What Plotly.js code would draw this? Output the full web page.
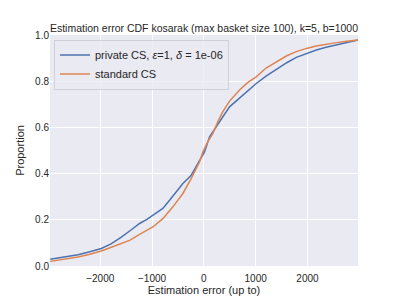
<!DOCTYPE html>
<html><head><meta charset="utf-8">
<script src="https://cdn.plot.ly/plotly-3.0.1.min.js"></script>
<style>html,body{margin:0;padding:0;background:#fff}#c{width:399px;height:299px}</style>
</head><body><div id="c"></div>
<script>
const privX = [-2965,-2700,-2430,-2200,-1981,-1800,-1600,-1400,-1241,-1100,-985,-880,-792,-662,-533,-405,-243,-83,13,110,240,367,500,689,850,1011,1200,1397,1600,1784,1980,2170,2360,2556,2760,2973];
const privY = [0.029,0.038,0.049,0.062,0.076,0.095,0.124,0.157,0.184,0.202,0.220,0.235,0.249,0.285,0.321,0.357,0.393,0.458,0.494,0.559,0.605,0.646,0.690,0.726,0.760,0.790,0.822,0.851,0.880,0.903,0.920,0.935,0.947,0.957,0.967,0.978];
const stdX = [-2965,-2700,-2430,-2200,-1981,-1800,-1595,-1434,-1241,-985,-792,-598,-405,-243,-83,-19,80,174,270,367,500,689,850,1011,1200,1397,1600,1784,1980,2170,2360,2556,2760,2973];
const stdY = [0.020,0.029,0.039,0.051,0.065,0.080,0.097,0.111,0.137,0.169,0.205,0.256,0.314,0.379,0.451,0.494,0.540,0.574,0.625,0.668,0.715,0.762,0.795,0.819,0.857,0.884,0.910,0.928,0.942,0.952,0.960,0.967,0.973,0.978];
const seriesNames = ['private CS, <i>ε</i>=1, <i>δ</i> = 1e-06', 'standard CS'];
const xTicks = [-2000,-1000,0,1000,2000];
const xTickText = ['−2000','−1000','0','1000','2000'];
const yTicks = [0,0.2,0.4,0.6,0.8,1.0];
const yTickText = ['0.0','0.2','0.4','0.6','0.8','1.0'];

const font = 'Liberation Sans, Arial, sans-serif';
Plotly.newPlot('c', [
  {x: privX, y: privY, name: seriesNames[0], mode: 'lines', line: {color: '#4C72B0', width: 1.5}},
  {x: stdX, y: stdY, name: seriesNames[1], mode: 'lines', line: {color: '#DD8452', width: 1.5}}
], {
  width: 399, height: 299,
  margin: {l: 50, r: 41, t: 35, b: 33},
  paper_bgcolor: '#fff', plot_bgcolor: '#EAEAF2',
  font: {family: font, size: 10, color: '#262626'},
  title: {text: 'Estimation error CDF kosarak (max basket size 100), k=5, b=1000', font: {size: 10.5, color: '#262626'}, x: 0.5, xanchor: 'center', y: 0.906, yanchor: 'middle', xref: 'paper'},
  xaxis: {range: [-2970, 2975], tickvals: xTicks, ticktext: xTickText, gridcolor: '#fff', gridwidth: 1, zeroline: false, showline: false, ticks: 'outside', ticklen: 3, tickcolor: 'rgba(0,0,0,0)', tickfont: {size: 10, color: '#262626'},
    title: {text: 'Estimation error (up to)', font: {size: 11, color: '#262626'}, standoff: 3}},
  yaxis: {range: [0, 1], tickvals: yTicks, ticktext: yTickText, gridcolor: '#fff', gridwidth: 1, zeroline: false, showline: false, ticks: '', tickfont: {size: 10, color: '#262626'},
    title: {text: 'Proportion', font: {size: 11, color: '#262626'}, standoff: 8}},
  legend: {x: 0.013, y: 0.98, xanchor: 'left', yanchor: 'top', bgcolor: 'rgba(234,234,242,0.8)', bordercolor: '#d0d0d8', borderwidth: 1, font: {size: 11, color: '#262626'}, tracegroupgap: 0, itemwidth: 30},
  showlegend: true
}, {displayModeBar: false, staticPlot: true});
</script></body></html>
